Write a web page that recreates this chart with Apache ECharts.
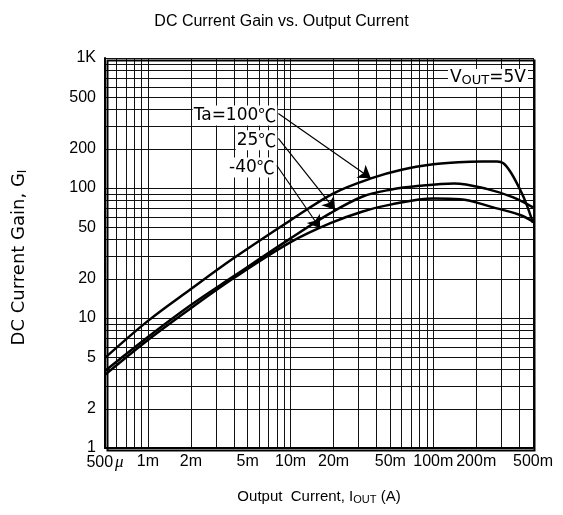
<!DOCTYPE html>
<html>
<head>
<meta charset="utf-8">
<script src="https://cdn.jsdelivr.net/npm/echarts@6/dist/echarts.min.js"></script>
<style>
html, body { margin: 0; padding: 0; background: #fff; }
#main { width: 563px; height: 515px; }
</style>
</head>
<body>
<div id="main"></div>
<script>
// DC current gain curves (Output current in A)
const current100 = [0.0005, 0.001, 0.002, 0.004, 0.01, 0.02, 0.037, 0.06, 0.1, 0.15, 0.22, 0.28, 0.31, 0.346, 0.385, 0.44, 0.5]
const gain100 = [4.93, 9.5, 16.7, 28.9, 56.5, 91, 119, 138, 152, 158, 160, 160, 155, 134, 109, 80, 54]

const current25 = [0.0005, 0.001, 0.002, 0.004, 0.01, 0.019, 0.032, 0.05, 0.08, 0.14, 0.24, 0.36, 0.5]
const gain25 = [3.92, 7.15, 12.6, 21, 41, 64, 86, 97, 104, 108.5, 98, 85, 71]

const currentM40 = [0.0005, 0.001, 0.002, 0.004, 0.01, 0.019, 0.032, 0.05, 0.1, 0.154, 0.263, 0.406, 0.5]
const gainM40 = [3.66, 6.78, 11.9, 20.3, 38.3, 53.6, 66, 74.5, 83, 82, 71, 62, 55]

// grid / tick values
const xGrid = [0.0005, 0.0006, 0.0007, 0.0008, 0.0009,
  0.001, 0.002, 0.003, 0.004, 0.005, 0.006, 0.007, 0.008, 0.009,
  0.01, 0.02, 0.03, 0.04, 0.05, 0.06, 0.07, 0.08, 0.09,
  0.1, 0.2, 0.3, 0.4, 0.5]
const xLabelValues = [0.0005, 0.001, 0.002, 0.005, 0.01, 0.02, 0.05, 0.1, 0.2, 0.5]
const xLabelTexts = ['500{mu|μ}', '1m', '2m', '5m', '10m', '20m', '50m', '100m', '200m', '500m']

const yGrid = [1, 2, 3, 4, 5, 6, 7, 8, 9, 10, 20, 30, 40, 50, 60, 70, 80, 90,
  100, 200, 300, 400, 500, 600, 700, 800, 900, 1000]
const yLabelValues = [1, 2, 5, 10, 20, 50, 100, 200, 500, 1000]
const yLabelTexts = ['1', '2', '5', '10', '20', '50', '100', '200', '500', '1K']

// annotation arrows: [label, arrow start, arrow tip]
const notes = [
  ['Ta=100', [0.0082, 374], [0.0365, 119]],
  ['25', [0.0082, 241], [0.0205, 68]],
  ['-40', [0.0080, 149], [0.0161, 49]]
]

const FONT = 'Liberation Sans, Arial, sans-serif'
const WIDE = 'DejaVu Sans, sans-serif'
const CJK = 'Noto Sans CJK JP, sans-serif'

function pairs (xs, ys) {
  return xs.map((x, i) => [x, ys[i]])
}

function labelOf (values, texts) {
  return (v) => {
    for (let i = 0; i < values.length; i++) {
      if (Math.abs(v - values[i]) / values[i] < 1e-6) return texts[i]
    }
    return ''
  }
}

let myChart = echarts.init(document.getElementById('main'))

const curveStyle = { color: '#000', width: 2.5 }

myChart.setOption({
  animation: false,
  backgroundColor: '#fff',
  title: {
    text: 'DC Current Gain vs. Output Current',
    left: 'center',
    top: 9,
    textStyle: { fontFamily: FONT, fontSize: 16, fontWeight: 'normal', color: '#000' }
  },
  grid: {
    left: 105,
    right: 30,
    top: 58,
    bottom: 67
  },
  xAxis: {
    type: 'log',
    logBase: 10,
    min: 0.0005,
    max: 0.5,
    name: '{a|Output  Current, I}{s|OUT}{a| (A)}',
    nameLocation: 'middle',
    nameGap: 40,
    nameTextStyle: {
      rich: {
        a: { fontFamily: FONT, fontSize: 15, color: '#000' },
        s: { fontFamily: FONT, fontSize: 11, color: '#000', padding: [6, 0, 0, 0] }
      }
    },
    axisLine: { lineStyle: { color: '#000', width: 2 } },
    axisTick: { show: false, customValues: xGrid },
    axisLabel: {
      customValues: xLabelValues,
      formatter: labelOf(xLabelValues, xLabelTexts),
      fontFamily: FONT,
      fontSize: 16,
      color: '#000',
      margin: 6,
      rich: {
        mu: { fontFamily: 'Liberation Serif, serif', fontStyle: 'italic', fontSize: 17, color: '#000', padding: [0, 0, 0, 2] }
      }
    },
    splitLine: { show: true, lineStyle: { color: '#111', width: 1 } },
    minorSplitLine: { show: false }
  },
  yAxis: {
    type: 'log',
    logBase: 10,
    min: 1,
    max: 1000,
    name: '{a|DC Current Gain, G}{s|I}',
    nameLocation: 'middle',
    nameGap: 76,
    nameRotate: 90,
    nameTextStyle: {
      padding: [0, 9, 0, 0],
      rich: {
        a: { fontFamily: WIDE, fontSize: 18, color: '#000' },
        s: { fontFamily: WIDE, fontSize: 12, color: '#000', padding: [8, 0, 0, 0] }
      }
    },
    axisLine: { show: true, lineStyle: { color: '#000', width: 2 } },
    axisTick: { show: false, customValues: yGrid },
    axisLabel: {
      customValues: yLabelValues,
      formatter: labelOf(yLabelValues, yLabelTexts),
      fontFamily: FONT,
      fontSize: 16,
      color: '#000',
      margin: 9
    },
    splitLine: { show: true, lineStyle: { color: '#111', width: 1 } }
  },
  graphic: [
    {
      type: 'rect',
      shape: { x: 0, y: 0, width: 427, height: 390 },
      left: 105,
      top: 58,
      silent: true,
      z: 100,
      style: { fill: 'none', stroke: '#000', lineWidth: 2 }
    },
    {
      type: 'text',
      right: 35,
      top: 69,
      z: 100,
      style: {
        text: '{a|V}{s|OUT}{a|=5V}',
        backgroundColor: '#fff',
        padding: [0, 2],
        rich: {
          a: { fontFamily: WIDE, fontSize: 17, fill: '#000' },
          s: { fontFamily: WIDE, fontSize: 13, fill: '#000', padding: [5, 0, 0, 0] }
        }
      }
    }
  ],
  series: [
    {
      name: 'Ta=100℃',
      type: 'line',
      data: pairs(current100, gain100),
      smooth: 0.35,
      showSymbol: false,
      lineStyle: curveStyle,
      z: 5,
      markLine: {
        silent: true,
        symbol: ['none', 'arrow'],
        symbolSize: 12,
        label: { show: false },
        lineStyle: { color: '#000', width: 1.2, type: 'solid' },
        data: notes.map(n => [{ coord: n[1] }, { coord: n[2] }])
      },
      markPoint: {
        silent: true,
        symbol: 'circle',
        symbolSize: 0,
        z: 20,
        data: notes.map(n => ({
          coord: n[1],
          label: {
            show: true,
            position: 'left',
            distance: 1,
            offset: [0, 2],
            formatter: '{a|' + n[0] + '}{c|℃}',
            backgroundColor: '#fff',
            padding: [1, 1],
            rich: {
              a: { fontFamily: WIDE, fontSize: 17, color: '#000' },
              c: { fontFamily: CJK, fontSize: 18, color: '#000' }
            }
          }
        }))
      }
    },
    {
      name: '25℃',
      type: 'line',
      data: pairs(current25, gain25),
      smooth: 0.35,
      showSymbol: false,
      lineStyle: curveStyle,
      z: 5
    },
    {
      name: '-40℃',
      type: 'line',
      data: pairs(currentM40, gainM40),
      smooth: 0.35,
      showSymbol: false,
      lineStyle: curveStyle,
      z: 5
    }
  ]
})
</script>
</body>
</html>
